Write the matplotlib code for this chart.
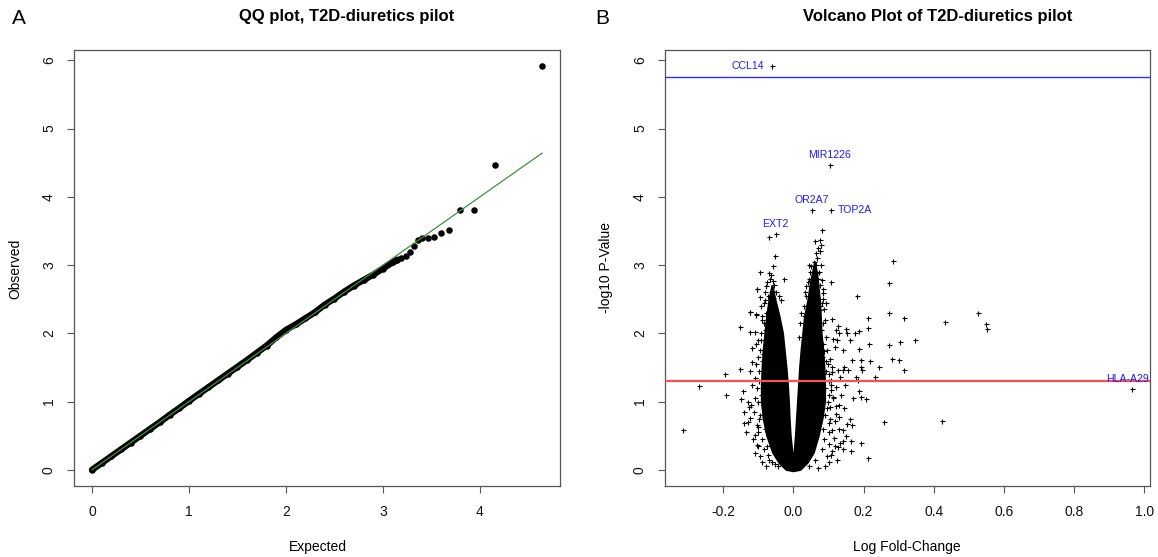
import matplotlib
matplotlib.use("Agg")
import matplotlib.pyplot as plt

plt.rcParams['font.family'] = ['Liberation Sans', 'DejaVu Sans']
plt.rcParams['axes.unicode_minus'] = False

# ---------------- QQ plot data ----------------
qq_expected = [0.0, 0.1, 0.2, 0.3, 0.4, 0.5, 0.6, 0.7, 0.8, 0.9, 1.0, 1.1, 1.2, 1.3, 1.4,
               1.5, 1.6, 1.7, 1.8, 1.9, 2.0, 2.1, 2.2, 2.3, 2.4, 2.5, 2.6, 2.7, 2.8, 2.9,
               3.0, 3.1, 3.15]
qq_observed = [0.0, 0.1, 0.2, 0.3, 0.4, 0.5, 0.6, 0.7, 0.805, 0.905, 1.01, 1.11, 1.21, 1.31, 1.41,
               1.51, 1.61, 1.715, 1.82, 1.94, 2.05, 2.13, 2.22, 2.31, 2.42, 2.51, 2.61, 2.70, 2.78, 2.86,
               2.95, 3.04, 3.08]
qq_top_expected = [3.19, 3.24, 3.275, 3.317, 3.361, 3.406, 3.461, 3.523, 3.598, 3.68,
                   3.794, 3.938, 4.159, 4.64]
qq_top_observed = [3.11, 3.13, 3.19, 3.28, 3.373, 3.40, 3.40, 3.417, 3.466, 3.51,
                   3.80, 3.812, 4.466, 5.915]
qq_xticks = [0, 1, 2, 3, 4]
qq_yticks = [0, 1, 2, 3, 4, 5, 6]

# ---------------- Volcano data ----------------
# dense core outline of the V (log fold-change, -log10 p)
core_x = [-0.060, -0.068, -0.075, -0.080, -0.085, -0.088, -0.090, -0.090, -0.085, -0.075, -0.058, -0.040, -0.020,
          0.0, 0.020,
          0.040, 0.058, 0.072, 0.083, 0.090, 0.090, 0.088, 0.085, 0.080, 0.078, 0.075, 0.070, 0.062,
          0.050, 0.043, 0.033, 0.028, 0.023, 0.019, 0.016, 0.013, 0.010, 0.007, 0.003, 0.0,
          -0.003, -0.008, -0.011, -0.013, -0.016, -0.020, -0.025, -0.030, -0.040, -0.052]
core_y = [2.7, 2.5, 2.25, 2.0, 1.75, 1.5, 1.25, 1.0, 0.75, 0.5, 0.25, 0.1, 0.0,
          -0.02, 0.0,
          0.1, 0.25, 0.5, 0.75, 1.0, 1.25, 1.5, 1.75, 2.0, 2.25, 2.5, 2.75, 3.05,
          2.75, 2.5, 2.25, 2.0, 1.75, 1.5, 1.25, 1.0, 0.75, 0.5, 0.25, 0.15,
          0.25, 0.5, 0.75, 1.0, 1.25, 1.5, 1.75, 2.0, 2.25, 2.5]

scatter_x = [-0.315, -0.27, -0.194, -0.192, -0.153, -0.152, -0.151, -0.14, -0.145, -0.127,
             -0.125, -0.125, -0.118, -0.118, -0.11, -0.107, -0.106, -0.103, -0.11, -0.109,
             -0.104, -0.124, -0.102, -0.13, -0.096, -0.092, -0.072, -0.053,
             0.106, 0.111, 0.127, 0.124, 0.13, 0.15, 0.153, 0.16, 0.175, 0.18,
             0.188, 0.211, 0.212, 0.186, 0.214, 0.218, 0.192, 0.192, 0.196, 0.168,
             0.141, 0.117, 0.111, 0.109, 0.128, 0.14, 0.155, 0.134, 0.148, 0.179,
             0.184, 0.232, 0.244, 0.272, 0.273, 0.273, 0.28, 0.302, 0.305, 0.315,
             0.315, 0.347, 0.432, 0.527, 0.548, 0.553, 0.422, 0.257, 0.213, 0.193,
             0.187, 0.192, 0.208, 0.168, 0.153, 0.141, 0.163, 0.134, 0.128, 0.106,
             0.11, 0.117, 0.121, 0.129, 0.113, 0.106, 0.121, 0.108, 0.144, 0.086,
             0.093, 0.285, 0.034, 0.046, 0.065, 0.084, 0.093, 0.02, 0.04, 0.054, 0.075,
             -0.054, -0.095, -0.07, -0.059, -0.063, -0.104, -0.077, -0.058, -0.055, -0.027,
             -0.036, -0.082, -0.067, -0.124, -0.106, -0.09,
             0.081, 0.075, 0.078, 0.065, 0.067, 0.051, 0.063, 0.067, 0.056, 0.07, 0.045,
             0.061, 0.075,
             -0.085, -0.09, -0.082, -0.095, -0.088, -0.092, -0.085, -0.098, -0.083, -0.09,
             -0.086, -0.093, -0.08, -0.085, -0.078, -0.072, -0.064, -0.06, -0.07, -0.06,
             -0.075, -0.1, -0.08, -0.082, -0.078, -0.076, -0.073, -0.04, -0.05, -0.045,
             -0.11, -0.115, -0.12,
             0.08, 0.088, 0.085, 0.09, 0.095, 0.082, 0.09, 0.1, 0.085, 0.092, 0.08, 0.085,
             0.078, 0.083, 0.077, 0.07, 0.045, 0.06, 0.1, 0.105, 0.098, 0.082, 0.06, 0.072,
             0.048, 0.058, 0.035, 0.03, 0.022, 0.015, 0.1, 0.11, 0.115, 0.12, 0.13, 0.14,
             -0.095, -0.1, -0.105, -0.098, -0.1, -0.105, -0.097, -0.1, -0.095, -0.092,
             -0.09, -0.085, -0.08, -0.075, -0.068, -0.062, -0.058, -0.1, -0.108, -0.112,
             -0.118, -0.125, -0.13, -0.135, -0.14, -0.09, -0.078, -0.11, -0.07, -0.065,
             0.095, 0.1, 0.1, 0.105, 0.1, 0.1, 0.098, 0.095, 0.092, 0.09,
             0.088, 0.085, 0.08, 0.078, 0.085, 0.108, 0.112, 0.118, 0.125, 0.13,
             0.135, 0.14, 0.145, 0.15, 0.16, 0.165, 0.17, 0.09, 0.07, 0.105,
             0.112, 0.12, 0.075, 0.07, 0.062, 0.045, 0.04, 0.035, 0.03]
scatter_y = [0.59, 1.23, 1.40, 1.09, 2.10, 1.48, 1.04, 0.68, 1.15, 0.92,
             2.02, 2.32, 1.79, 1.58, 2.02, 1.85, 2.28, 2.65, 1.35, 0.51,
             0.36, 0.76, 0.63, 0.70, 2.53, 2.40, 0.22, 0.08,
             2.75, 2.21, 2.11, 1.90, 2.0, 2.06, 2.01, 1.9, 2.0, 2.54,
             2.04, 2.23, 2.08, 1.77, 1.84, 1.60, 1.61, 1.51, 1.47, 1.61,
             1.75, 1.80, 1.51, 1.44, 1.47, 1.47, 1.47, 1.36, 1.25, 1.36,
             1.32, 1.36, 1.50, 2.30, 2.74, 1.83, 1.62, 1.61, 1.87, 2.23,
             1.47, 1.90, 2.17, 2.30, 2.13, 2.07, 0.72, 0.70, 0.17, 0.40,
             1.16, 1.07, 1.04, 0.65, 0.67, 0.58, 0.42, 0.39, 0.34, 0.22,
             0.59, 0.71, 0.94, 0.95, 1.07, 1.17, 1.21, 1.32, 1.51, 1.74,
             1.45, 3.06, 2.61, 2.57, 2.59, 2.59, 2.44, 2.15, 2.27, 2.34, 2.34,
             3.13, 2.90, 2.88, 2.98, 2.86, 2.65, 2.70, 2.76, 2.71, 2.80,
             2.49, 2.49, 2.44, 2.32, 2.27, 2.20,
             3.51, 3.37, 3.29, 3.18, 3.10, 2.98, 3.00, 2.88, 2.83, 2.80, 2.80,
             2.69, 2.71,
             0.30, 0.45, 0.60, 0.80, 0.95, 1.10, 1.20, 1.30, 1.45, 1.60,
             1.70, 1.90, 2.05, 2.15, 2.30, 2.55, 2.60, 2.40, 0.15, 0.12,
             0.35, 0.55, 0.85, 1.35, 1.55, 1.80, 2.10, 2.55, 2.60, 0.06,
             1.05, 0.45, 0.95,
             0.30, 0.45, 0.60, 0.80, 0.90, 1.05, 1.20, 1.30, 1.40, 1.60, 1.65, 1.85,
             2.05, 2.15, 2.40, 2.50, 0.05, 0.15, 0.55, 0.75, 1.00, 2.45, 2.85, 2.90,
             2.90, 3.05, 2.70, 2.40, 2.30, 1.95, 0.12, 0.28, 0.47, 0.82, 0.60, 0.43,
             0.20, 0.35, 0.65, 0.75, 1.00, 1.20, 1.45, 1.65, 1.75, 2.00,
             2.25, 2.45, 2.60, 2.75, 2.80, 2.62, 2.52, 1.90, 1.55, 0.85,
             1.25, 1.45, 1.00, 0.55, 0.85, 0.12, 0.05, 0.25, 2.35, 2.20,
             0.20, 0.38, 0.68, 0.92, 1.10, 1.40, 1.55, 1.75, 1.95, 2.20,
             2.35, 2.65, 2.78, 3.00, 2.50, 1.25, 1.05, 0.35, 0.15, 0.78,
             1.10, 0.30, 0.90, 0.50, 0.75, 0.28, 1.05, 0.05, 0.02, 1.62,
             1.92, 2.05, 3.20, 3.25, 3.35, 3.00, 2.75, 2.55, 2.25]

gene_names = ["CCL14", "MIR1226", "OR2A7", "TOP2A", "EXT2", "HLA-A29"]
gene_x = [-0.0625, 0.103, 0.053, 0.107, -0.051, 0.965]
gene_y = [5.915, 4.46, 3.806, 3.80, 3.46, 1.186]
gene_pos = ["left", "above", "above", "right", "above", "above"]
ext2_second_x = [-0.071]
ext2_second_y = [3.41]

bonferroni_line = 5.75
nominal_line = 1.301
vol_xticks = [-0.2, 0.0, 0.2, 0.4, 0.6, 0.8, 1.0]
vol_xticklabels = ["-0.2", "0.0", "0.2", "0.4", "0.6", "0.8", "1.0"]
vol_yticks = [0, 1, 2, 3, 4, 5, 6]

# ---------------- Figure ----------------
W, H = 1158, 557
fig = plt.figure(figsize=(W / 100, H / 100), dpi=100)
ax1 = fig.add_axes([74 / W, (H - 486) / H, 486 / W, 436 / H])
ax2 = fig.add_axes([665 / W, (H - 486) / H, 485 / W, 436 / H])

box_col = '#555555'
for ax in (ax1, ax2):
    for s in ax.spines.values():
        s.set_color(box_col)
        s.set_linewidth(0.9)
    ax.tick_params(axis='both', direction='out', length=5, width=0.8, color=box_col,
                   labelsize=10, labelcolor='#111111')
    ax.tick_params(axis='x', pad=9)
    ax.tick_params(axis='y', pad=8)

# QQ plot
ax1.plot(qq_expected, qq_observed, color='black', lw=4.6, solid_capstyle='round',
         solid_joinstyle='round', zorder=2)
ax1.scatter(qq_expected, qq_observed, s=22, color='black', zorder=2, linewidths=0)
ax1.scatter(qq_top_expected, qq_top_observed, s=22, color='black', zorder=3, linewidths=0)
ax1.plot([0, max(qq_top_expected)], [0, max(qq_top_expected)], color='#3f8f3f', lw=0.9, zorder=4)
xmin, xmax = 0.0, max(qq_top_expected)
ymin, ymax = 0.0, max(qq_top_observed)
ax1.set_xlim(xmin - 0.04 * (xmax - xmin), xmax + 0.04 * (xmax - xmin))
ax1.set_ylim(ymin - 0.04 * (ymax - ymin), ymax + 0.04 * (ymax - ymin))
ax1.set_xticks(qq_xticks)
ax1.set_yticks(qq_yticks)
plt.setp(ax1.get_yticklabels(), rotation=90, va='center')

# Volcano
ax2.fill(core_x, core_y, color='black', lw=1.5, ec='black', zorder=2)
mk = dict(color='black', ms=3.6, mew=0.8, zorder=3, ls='none', marker='+')
ax2.plot(scatter_x, scatter_y, **mk)
ax2.plot(gene_x, gene_y, **mk)
ax2.plot(ext2_second_x, ext2_second_y, **mk)
ax2.axhline(bonferroni_line, color='#3030ff', lw=1.0, zorder=4)
ax2.axhline(nominal_line, color='#ff5050', lw=1.6, zorder=4)
lab_col = '#1a1aff'
extra_dx = {"HLA-A29": -3.0}
for name, gx, gy, pos in zip(gene_names, gene_x, gene_y, gene_pos):
    if pos == "left":
        off, ha = (-5.3, 0), 'right'
    elif pos == "right":
        off, ha = (5.0, 0), 'left'
    else:
        off, ha = (0, 7.2), 'center'
    off = (off[0] + extra_dx.get(name, 0.0), off[1])
    ax2.annotate(name, (gx, gy), xytext=off, textcoords='offset points', ha=ha, va='center',
                 color=lab_col, fontsize=7.6, zorder=5, annotation_clip=False)
vx = scatter_x + gene_x
vy = scatter_y + gene_y
vxmin, vxmax = min(vx), max(vx)
vymin, vymax = 0.0, max(vy)
ax2.set_xlim(vxmin - 0.04 * (vxmax - vxmin), vxmax + 0.04 * (vxmax - vxmin))
ax2.set_ylim(vymin - 0.04 * (vymax - vymin), vymax + 0.04 * (vymax - vymin))
ax2.set_xticks(vol_xticks)
ax2.set_xticklabels(vol_xticklabels)
ax2.set_yticks(vol_yticks)
plt.setp(ax2.get_yticklabels(), rotation=90, va='center')

def ftext(x, y, s, **kw):
    fig.text(x / W, 1 - y / H, s, **kw)

ftext(12, 18, "A", fontsize=15, ha='left', va='center')
ftext(595, 18, "B", fontsize=15, ha='left', va='center')
ftext(347, 17, "QQ plot, T2D-diuretics pilot", fontsize=12, fontweight='bold', ha='center', va='center')
ftext(938, 17, "Volcano Plot of T2D-diuretics pilot", fontsize=12, fontweight='bold', ha='center', va='center')
ftext(15, 269, "Observed", fontsize=10, rotation=90, ha='center', va='center')
ftext(606, 267, "-log10 P-Value", fontsize=10, rotation=90, ha='center', va='center')
ftext(318, 547, "Expected", fontsize=10, ha='center', va='center')
ftext(907, 547, "Log Fold-Change", fontsize=10, ha='center', va='center')

fig.savefig("out.png", dpi=100)
